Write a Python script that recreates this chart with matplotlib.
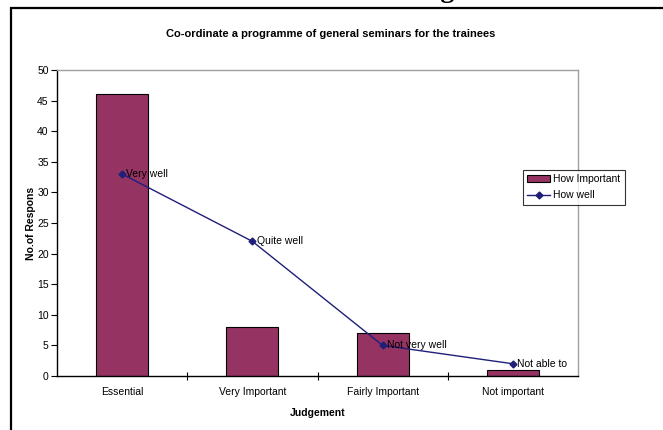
import matplotlib
matplotlib.use("Agg")
import matplotlib.pyplot as plt
from matplotlib.patches import Rectangle
import numpy as np

plt.rcParams['font.family'] = ['Liberation Sans', 'DejaVu Sans']

# data
categories = ['Essential', 'Very Important', 'Fairly Important', 'Not important']
how_important = [46, 8, 7, 1]
how_well = [33, 22, 5, 2]
well_labels = ['Very well', 'Quite well', 'Not very well', 'Not able to']

W, H = 663, 430
fig = plt.figure(figsize=(W / 100, H / 100), dpi=100)

# outer chart frame (cut off at right/bottom like the original)
fig.patches.append(Rectangle((11 / W, -0.05), 1.1, (H - 8) / H + 0.05,
                             transform=fig.transFigure, fill=False,
                             edgecolor='black', linewidth=1.6))
# fragment of document heading above the chart (only the descender shows)
fig.text(455 / W, 1 + 3 / H, 'ng', family='Liberation Serif', weight='bold',
         fontsize=20, ha='right', va='baseline')

ax = fig.add_axes([57 / W, (H - 376) / H, (578 - 57) / W, (376 - 70) / H])
x = np.arange(len(categories))

bars = ax.bar(x, how_important, width=0.4, color='#953462', edgecolor='black',
              linewidth=0.8, label='How Important', zorder=2)
line, = ax.plot(x, how_well, color='#1f1f7a', marker='D', markersize=3.5,
                linewidth=1, label='How well', zorder=3)
for xi, yi, lab in zip(x, how_well, well_labels):
    ax.annotate(lab, (xi, yi), xytext=(3, 0), textcoords='offset points',
                va='center', ha='left', fontsize=7.5, zorder=4)

ax.set_xlim(-0.5, len(categories) - 0.5)
ax.set_ylim(0, 50)
ax.set_yticks(range(0, 51, 5))
ax.set_xticks(x)
ax.set_xticklabels(categories, fontsize=7.5)
ax.set_xticks(np.arange(0.5, len(categories) - 0.5, 1), minor=True)
ax.tick_params(axis='x', which='major', length=0, pad=8)
ax.tick_params(axis='x', which='minor', direction='inout', length=6, width=0.8)
ax.tick_params(axis='y', direction='out', length=4, width=0.8, labelsize=7.5, pad=2)

for s in ['left', 'bottom']:
    ax.spines[s].set_color('black')
    ax.spines[s].set_linewidth(1)
for s in ['top', 'right']:
    ax.spines[s].set_color('#a0a0a0')
    ax.spines[s].set_linewidth(1)

ax.set_title('Co-ordinate a programme of general seminars for the trainees',
             fontsize=8, weight='bold', pad=24, x=(331 - 57) / (578 - 57))
ax.set_xlabel('Judgement', fontsize=7.5, weight='bold', labelpad=8)
ax.set_ylabel('No.of Respons', fontsize=7.5, weight='bold', labelpad=1)

leg = ax.legend([bars, line], ['How Important', 'How well'],
                loc='upper left', bbox_to_anchor=(523 / W, 1 - 170 / H),
                bbox_transform=fig.transFigure, fontsize=7.5, frameon=True,
                fancybox=False, edgecolor='black', borderpad=0.4,
                handlelength=2.2, handletextpad=0.3, labelspacing=0.6,
                borderaxespad=0)
leg.get_frame().set_linewidth(0.8)

fig.savefig('out.png', dpi=100)
